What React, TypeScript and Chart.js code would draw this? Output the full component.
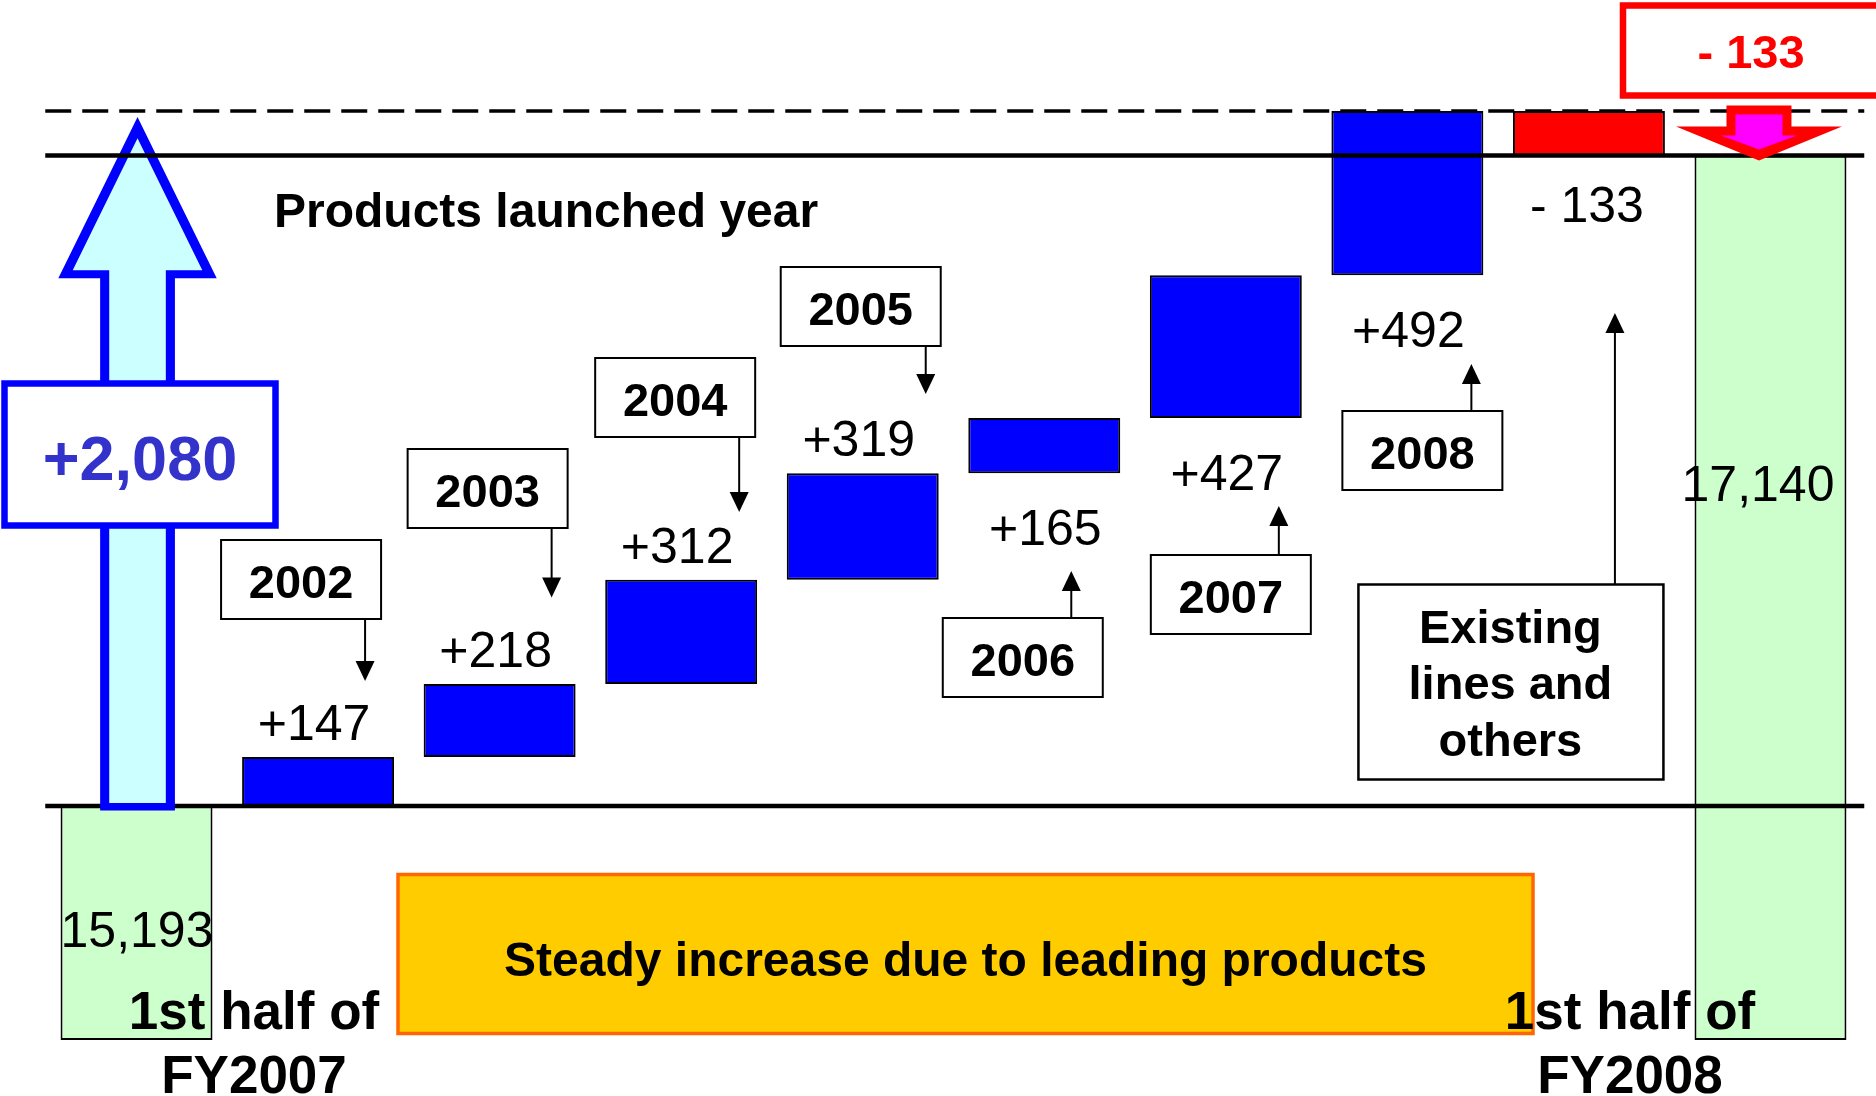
import { useEffect, useRef } from 'react';
import { Chart, registerables } from 'chart.js';

Chart.register(...registerables);

// ---- data ----
const startLabel = ['1st half of', 'FY2007'];
const endLabel = ['1st half of', 'FY2008'];
const launchYears = ['2002', '2003', '2004', '2005', '2006', '2007', '2008'];
const launchGains = [147, 218, 312, 319, 165, 427, 492];
const existingLabel = ['Existing', 'lines and', 'others'];
const existingChange = -133;
const startSales = 15193;
const endSales = 17140;
const newProductsTotal = 2080;
const headline = 'Products launched year';
const bannerText = 'Steady increase due to leading products';

const categories = [startLabel.join(' '), ...launchYears, existingLabel.join(' '), endLabel.join(' ')];

// value axis window (the half-year totals start from the broken axis floor)
const Y_MIN = 14493;
const Y_MAX = 17605;

// ---- styling ----
const FONT = '"Liberation Sans", Arial, Helvetica, sans-serif';
const BLUE = '#0000ff';
const GREEN = '#ccffcc';
const RED = '#ff0000';

// callout boxes for launch years: offset from bar centre, box top, arrow offset, arrow tip
const calloutLayout = [
  { dx: -17, top: 540, arrowDx: 47, tipY: 681 },
  { dx: -12, top: 449, arrowDx: 52, tipY: 597.5 },
  { dx: -6, top: 358, arrowDx: 58, tipY: 512 },
  { dx: -2, top: 267, arrowDx: 63, tipY: 394 },
  { dx: -21.5, top: 618, arrowDx: 27, tipY: 571 },
  { dx: 5, top: 555, arrowDx: 53, tipY: 506 },
  { dx: 15, top: 411, arrowDx: 64, tipY: 364 },
];

type Pt = [number, number];

function fillPoly(ctx: CanvasRenderingContext2D, pts: Pt[], color: string) {
  ctx.beginPath();
  ctx.moveTo(pts[0][0], pts[0][1]);
  for (let i = 1; i < pts.length; i++) ctx.lineTo(pts[i][0], pts[i][1]);
  ctx.closePath();
  ctx.fillStyle = color;
  ctx.fill();
}

function drawText(
  ctx: CanvasRenderingContext2D,
  s: string,
  x: number,
  y: number,
  size: number,
  weight: string,
  color: string,
  align: CanvasTextAlign = 'center'
) {
  ctx.font = `${weight} ${size}px ${FONT}`;
  ctx.fillStyle = color;
  ctx.textAlign = align;
  ctx.textBaseline = 'alphabetic';
  ctx.fillText(s, x, y);
}

function hLine(ctx: CanvasRenderingContext2D, x1: number, x2: number, y: number, w: number, dash: number[] = []) {
  ctx.save();
  ctx.strokeStyle = '#000';
  ctx.lineWidth = w;
  ctx.setLineDash(dash);
  ctx.beginPath();
  ctx.moveTo(x1, y);
  ctx.lineTo(x2, y);
  ctx.stroke();
  ctx.restore();
}

function box(ctx: CanvasRenderingContext2D, x: number, y: number, w: number, h: number, stroke: string, lw: number, fill = '#fff') {
  ctx.fillStyle = fill;
  ctx.fillRect(x, y, w, h);
  ctx.strokeStyle = stroke;
  ctx.lineWidth = lw;
  ctx.strokeRect(x, y, w, h);
}

function pointer(ctx: CanvasRenderingContext2D, x: number, fromY: number, tipY: number) {
  const dir = Math.sign(tipY - fromY);
  ctx.strokeStyle = '#000';
  ctx.lineWidth = 2;
  ctx.beginPath();
  ctx.moveTo(x, fromY);
  ctx.lineTo(x, tipY - dir * 18);
  ctx.stroke();
  fillPoly(ctx, [[x, tipY], [x - 9.5, tipY - dir * 20], [x + 9.5, tipY - dir * 20]], '#000');
}

const fmtGain = (v: number) => (v >= 0 ? '+' : '- ') + Math.abs(v).toLocaleString('en-US');

const waterfallDecor = {
  id: 'waterfallDecor',
  afterDatasetsDraw(chart: Chart) {
    const ctx = chart.ctx;
    const xs = chart.scales.x;
    const ys = chart.scales.y;
    const area = chart.chartArea;
    const meta = chart.getDatasetMeta(0);
    const cx = (i: number) => xs.getPixelForValue(i);
    const yBase = ys.getPixelForValue(startSales);
    const yTop = ys.getPixelForValue(startSales + newProductsTotal);
    const yEnd = ys.getPixelForValue(endSales);
    const lineL = area.left - 0.5;
    const lineR = area.right + 3;

    ctx.save();

    // baseline of the opening half-year
    hLine(ctx, lineL, lineR, yBase, 4.5);

    // big growth arrow for new products
    const ax = cx(0) + 1;
    const tip = yTop + 6;
    const bottom = yBase + 4.5;
    fillPoly(ctx, [
      [ax, tip], [ax + 79.2, tip + 161.3], [ax + 37.4, tip + 161.3], [ax + 37.4, bottom],
      [ax - 37.4, bottom], [ax - 37.4, tip + 161.3], [ax - 79.2, tip + 161.3],
    ], BLUE);
    fillPoly(ctx, [
      [ax, tip + 21.3], [ax + 64.8, tip + 153.3], [ax + 28.3, tip + 153.3], [ax + 28.3, bottom - 7.5],
      [ax - 28.3, bottom - 7.5], [ax - 28.3, tip + 153.3], [ax - 64.8, tip + 153.3],
    ], '#ccffff');
    box(ctx, 4.5, 383.5, 271, 142, BLUE, 6.5);
    drawText(ctx, fmtGain(newProductsTotal), 140, 480, 63, 'bold', '#3333cc');

    // closing level and peak level lines
    hLine(ctx, lineL, lineR, yEnd, 4.5);
    hLine(ctx, lineL, lineR, yTop, 3.5, [26, 11]);

    // decrease arrow into the closing bar
    const dx = cx(9) - 11.5;
    const dt = yEnd + 5;
    fillPoly(ctx, [
      [dx - 32.5, dt - 55], [dx + 32.5, dt - 55], [dx + 32.5, dt - 34], [dx + 83, dt - 34],
      [dx, dt], [dx - 83, dt - 34], [dx - 32.5, dt - 34],
    ], RED);
    fillPoly(ctx, [
      [dx - 23.5, dt - 46], [dx + 23.5, dt - 46], [dx + 23.5, dt - 25], [dx + 38, dt - 25],
      [dx, dt - 11], [dx - 38, dt - 25], [dx - 23.5, dt - 25],
    ], '#ff00ff');
    box(ctx, 1623, 5.5, 260, 90, RED, 6.5);
    drawText(ctx, fmtGain(existingChange), 1751, 68, 47, 'bold', RED);

    // launch-year callouts and their gain labels
    launchYears.forEach((yr, i) => {
      const bar = meta.data[i + 1] as any;
      const c = cx(i + 1);
      const L = calloutLayout[i];
      const bx = c + L.dx - 80;
      box(ctx, bx, L.top, 160, 79, '#000', 2);
      drawText(ctx, yr, c + L.dx, L.top + 57.5, 47, 'bold', '#000');
      const ax2 = c + L.arrowDx;
      if (L.tipY > L.top) pointer(ctx, ax2, L.top + 79, L.tipY);
      else pointer(ctx, ax2, L.top, L.tipY);

      const top = Math.min(bar.y, bar.base);
      const bot = Math.max(bar.y, bar.base);
      const above = i < 4;
      drawText(ctx, fmtGain(launchGains[i]), c - (above ? 4 : -1), above ? top - 17 : bot + 72, 50, 'normal', '#000');
    });

    // existing lines callout
    const eb = meta.data[8] as any;
    const ec = cx(8);
    box(ctx, ec - 230.5, 584.5, 305, 195, '#000', 2.5);
    existingLabel.forEach((s, k) => drawText(ctx, s, ec - 78.5, 642.7 + k * 56.7, 47, 'bold', '#000'));
    pointer(ctx, ec + 26, 584.5, 313);
    drawText(ctx, fmtGain(existingChange), ec - 2, Math.max(eb.y, eb.base) + 67, 50, 'normal', '#000');

    // heading
    drawText(ctx, headline, 274, 227, 48, 'bold', '#000', 'left');

    // banner
    box(ctx, 398, 874.5, 1135, 159, '#ff6600', 3.5, '#ffcc00');
    drawText(ctx, bannerText, 965.5, 976, 48, 'bold', '#000');

    // half-year totals
    drawText(ctx, startSales.toLocaleString('en-US'), cx(0) + 0.5, 946.7, 50, 'normal', '#000');
    drawText(ctx, endSales.toLocaleString('en-US'), cx(9) - 12.5, 501, 50, 'normal', '#000');

    // period labels
    startLabel.forEach((s, k) => drawText(ctx, s, 254, 1029 + k * 64, 53, 'bold', '#000'));
    endLabel.forEach((s, k) => drawText(ctx, s, 1630, 1029 + k * 64, 53, 'bold', '#000'));

    ctx.restore();
  },
};

export default function App() {
  const ref = useRef<HTMLCanvasElement>(null);

  useEffect(() => {
    let run = startSales;
    const steps = launchGains.map((g) => {
      const r = [run, run + g];
      run += g;
      return r;
    });
    const existingBar = [run, run + existingChange];
    const values: any[] = [startSales, ...steps, existingBar, endSales];
    const colors = [GREEN, ...launchGains.map(() => BLUE), RED, GREEN];

    const chart = new Chart(ref.current as HTMLCanvasElement, {
      type: 'bar',
      data: {
        labels: categories,
        datasets: [
          {
            data: values,
            base: Y_MIN,
            backgroundColor: colors,
            borderColor: '#000',
            borderWidth: 2,
            borderSkipped: false,
            categoryPercentage: 1,
            barPercentage: 0.837,
          },
        ],
      },
      options: {
        animation: false,
        responsive: false,
        devicePixelRatio: 1,
        events: [],
        layout: { padding: { left: 45.75, right: 14.75, top: 0, bottom: 56 } },
        plugins: { legend: { display: false }, tooltip: { enabled: false }, title: { display: false } },
        scales: {
          x: { display: false, offset: true, grid: { display: false } },
          y: { display: false, min: Y_MIN, max: Y_MAX, grid: { display: false } },
        },
      },
      plugins: [waterfallDecor],
    });
    return () => chart.destroy();
  }, []);

  return (
    <div style={{ position: 'fixed', left: 0, top: 0, width: 1876, height: 1096, background: '#fff' }}>
      <canvas ref={ref} width={1876} height={1096} style={{ display: 'block', width: 1876, height: 1096 }} />
    </div>
  );
}
